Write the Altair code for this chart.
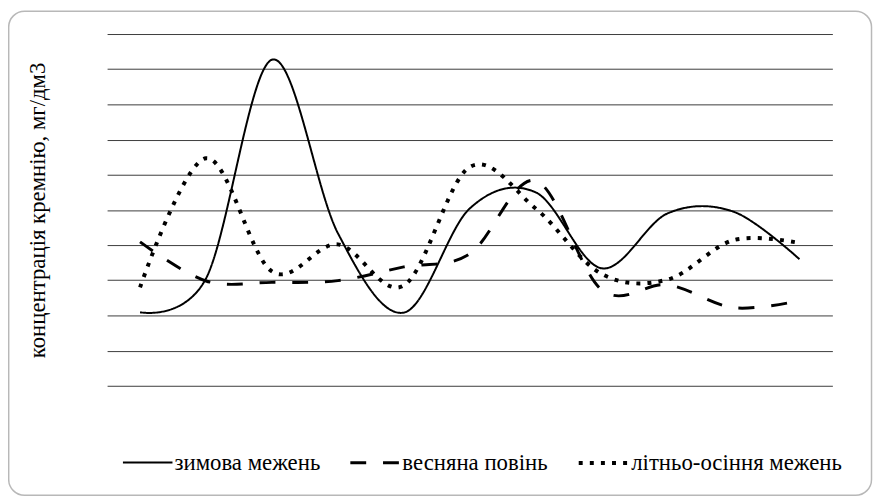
import altair as alt
import pandas as pd

# ---- data ----
points = [str(i) for i in range(1, 12)]
series_names = ["зимова межень", "весняна повінь", "літньо-осіння межень"]
winter = [2.09, 3.05, 9.27, 4.34, 2.08, 5.04, 5.50, 3.34, 4.90, 4.95, 3.60]
spring = [4.09, 2.98, 2.94, 2.99, 3.38, 3.75, 5.83, 2.73, 2.87, 2.22, 2.42]
summer = [2.80, 6.47, 3.25, 4.02, 2.85, 6.22, 5.04, 3.18, 3.02, 4.14, 4.06]
y_ticks = list(range(0, 11))
y_title = "концентрація кремнію, мг/дм3"

rows = []
for name, vals in zip(series_names, [winter, spring, summer]):
    for p, v in zip(points, vals):
        rows.append({"point": p, "value": v, "series": name})
df = pd.DataFrame(rows)

FONT = "Liberation Serif"

x_enc = alt.X("point:N", sort=points,
              scale=alt.Scale(type="point", padding=0.5), axis=None)
y_enc = alt.Y("value:Q",
              scale=alt.Scale(domain=[0, 10], nice=False, zero=True),
              axis=alt.Axis(values=y_ticks, labels=False, ticks=False,
                            domain=False, grid=True, gridColor="#3c3c3c", gridWidth=1,
                            title=y_title, titleFont=FONT, titleFontSize=23,
                            titleFontWeight="normal", titleColor="black",
                            titlePadding=58))

legend_def = alt.Legend(title=None, orient="none", legendX=15, legendY=406,
                        direction="horizontal", symbolType="stroke",
                        symbolSize=2500, symbolStrokeColor="black",
                        labelFont=FONT, labelFontSize=23,
                        labelColor="black", labelLimit=400, labelOffset=1,
                        columnPadding=23, padding=0)

lines = alt.Chart(df).mark_line(
    interpolate="cardinal", strokeJoin="round", color="black"
).encode(
    x=x_enc,
    y=y_enc,
    detail="series:N",
    strokeDash=alt.StrokeDash("series:N",
                              scale=alt.Scale(domain=series_names,
                                              range=[[1, 0], [16, 17], [4, 7.2]]),
                              legend=legend_def),
    strokeWidth=alt.StrokeWidth("series:N",
                                scale=alt.Scale(domain=series_names, range=[2, 4, 4]),
                                legend=legend_def),
)

frame = alt.Chart(pd.DataFrame({"f": [0]})).mark_rect(
    fillOpacity=0, stroke="#b8b8b8", strokeWidth=1.5, cornerRadius=16
).encode(
    x=alt.value(-99.3), x2=alt.value(771.5),
    y=alt.value(-23), y2=alt.value(465.5),
)

chart = alt.layer(lines, frame).properties(
    width=732, height=355,
    autosize=alt.AutoSizeParams(type="none"),
    padding={"left": 100, "top": 24, "right": 41, "bottom": 112},
).configure(
    background="white",
    font=FONT,
    view=alt.ViewConfig(stroke=None),
    legend=alt.LegendConfig(labelFont=FONT, labelFontSize=23, labelColor="black"),
)

chart.save("out.html", embed_options={"renderer": "svg", "actions": False})
